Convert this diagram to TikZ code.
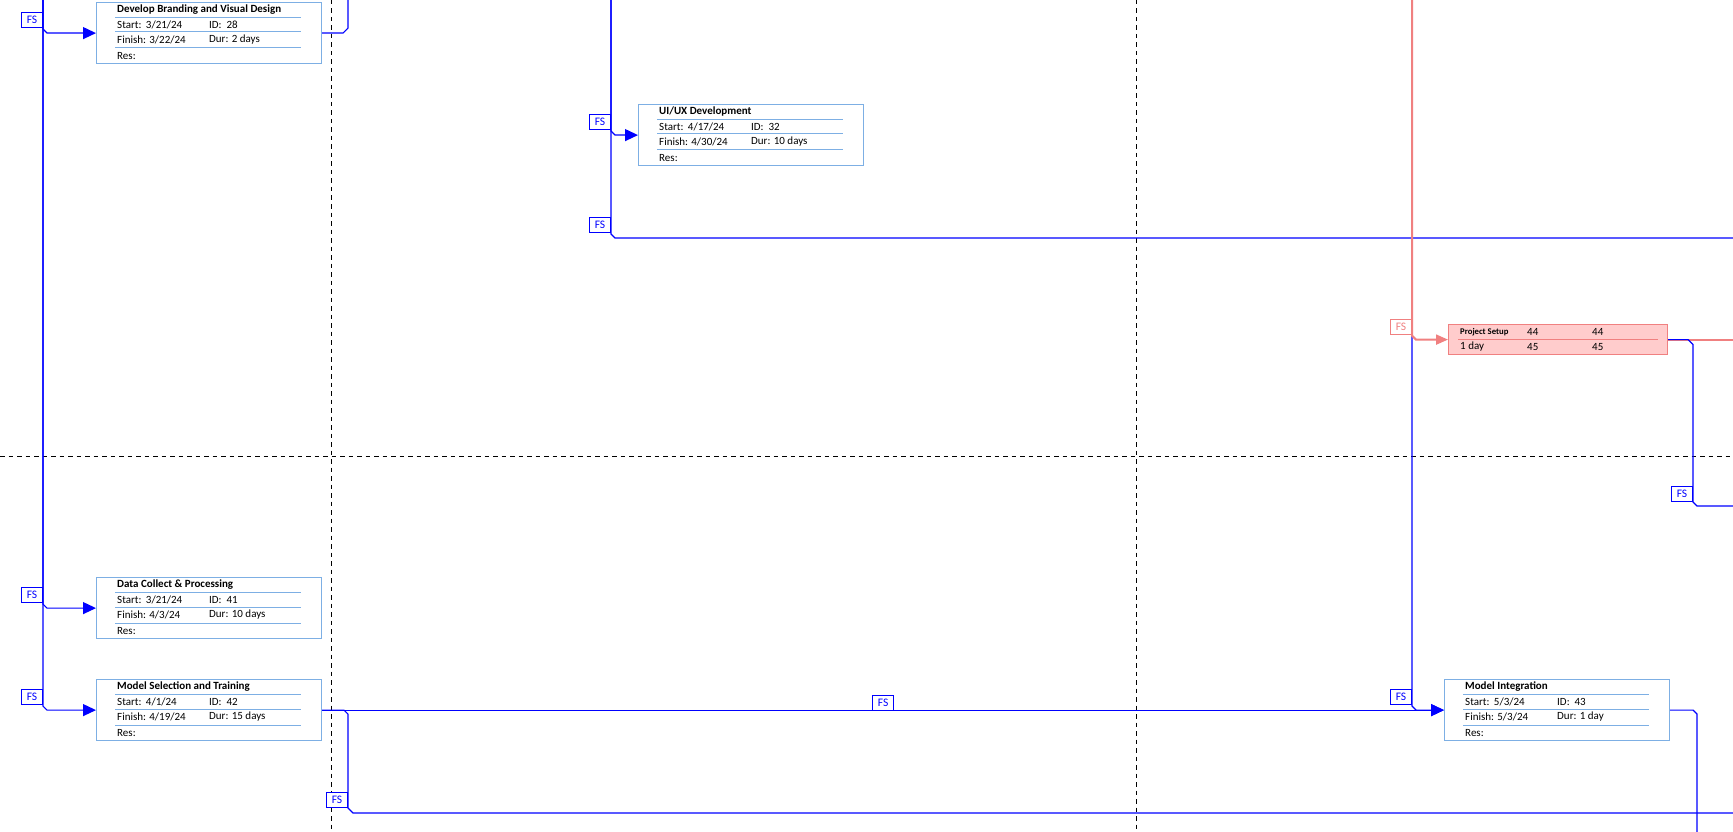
\documentclass[tikz,border=0pt]{standalone}
\usepackage{fontspec}
\setmainfont{Carlito}
\usetikzlibrary{arrows.meta,calc}
\definecolor{lnk}{RGB}{0,0,255}
\definecolor{bxb}{RGB}{125,175,228}
\definecolor{crit}{RGB}{240,128,128}
\definecolor{critfill}{RGB}{255,204,204}
\tikzset{
 tbox/.style={draw=bxb, line width=1.2pt, fill=white, minimum width=225pt, minimum height=61pt, inner sep=0pt, anchor=north west},
 tline/.style={draw=bxb, line width=1pt},
 ttl/.style={anchor=west, inner sep=0pt, font=\fontsize{11}{13}\selectfont\bfseries},
 ttx/.style={anchor=west, inner sep=0pt, font=\fontsize{11}{13}\selectfont},
 ctl/.style={anchor=west, inner sep=0pt, font=\fontsize{8.7}{10}\selectfont\bfseries},
 fs/.style={draw=lnk, fill=white, text=lnk, line width=1pt, minimum width=21pt, minimum height=15pt, inner sep=0pt, anchor=south east, font=\fontsize{11.5}{13}\selectfont},
 fsc/.style={fs, draw=crit, text=crit},
 link/.style={draw=lnk, line width=1.2pt},
 linkarr/.style={link, -{Triangle[length=13pt,width=12pt]}},
 critlink/.style={draw=crit, line width=2pt},
 gridline/.style={draw=black, line width=1pt, dash pattern=on 4.5pt off 4pt},
 cbox/.style={draw=crit, fill=critfill, line width=1.2pt, minimum width=219pt, minimum height=30pt, anchor=north west, inner sep=0pt},
}
\newcommand\taskbox[8]{%
 \node[tbox] (#1) at (#2,#3) {};
 \draw[tline] ($(#1.north west)+(19,15.5)$) -- ++(186,0);
 \draw[tline] ($(#1.north west)+(19,30)$) -- ++(186,0);
 \draw[tline] ($(#1.north west)+(19,46)$) -- ++(186,0);
 \node[ttl] (#1-t) at ($(#1.north west)+(21,7.5)$) {#4};
 \node[ttx] (#1-s) at ($(#1.north west)+(21,22.5)$) {Start:\hspace{0.4em}#5};
 \node[ttx] (#1-i) at ($(#1.north west)+(113,22.5)$) {ID:\hspace{0.45em}#6};
 \node[ttx] (#1-f) at ($(#1.north west)+(21,38)$) {Finish: #7};
 \node[ttx] (#1-d) at ($(#1.north west)+(113,38)$) {Dur: #8};
 \node[ttx] (#1-r) at ($(#1.north west)+(21,54)$) {Res:};
}
\begin{document}
\begin{tikzpicture}[x=1pt,y=-1pt]
\useasboundingbox[fill=white] (0,0) rectangle (1733,832);
% page grid
\draw[gridline] (331,0) -- (331,832);
\draw[gridline] (1136,0) -- (1136,832);
\draw[gridline] (0,456) -- (1733,456);
% box outlines first, so that anchors exist
\node[tbox] (b28) at (96,2) {};
\node[tbox] (b32) at (638,104) {};
\node[tbox] (b41) at (96,577) {};
\node[tbox] (b42) at (96,679) {};
\node[tbox] (b43) at (1444,679) {};
\node[cbox] (ps) at (1448,324) {};
% coordinates
\coordinate (t43) at (43,0);
\coordinate (t348) at (348,0);
\coordinate (t611) at (611,0);
\coordinate (t1412) at (1412,0);
\coordinate (r238) at (1733,238);
\coordinate (r339) at (1733,339);
\coordinate (k1) at (1693,506);
\coordinate (r506) at (1733,506);
\coordinate (k2) at (348,813);
\coordinate (r813) at (1733,813);
\coordinate (b1697) at (1697,832);
% links
\draw[linkarr] (t43) -- ($(t43|-b28.west)+(0,-4)$) -- ($(t43|-b28.west)+(4,0)$) -- (b28.west);
\draw[linkarr] (t43) -- ($(t43|-b41.west)+(0,-4)$) -- ($(t43|-b41.west)+(4,0)$) -- (b41.west);
\draw[linkarr] (t43) -- ($(t43|-b42.west)+(0,-4)$) -- ($(t43|-b42.west)+(4,0)$) -- (b42.west);
\draw[link] (b28.east) -- ($(t348|-b28.east)+(-5,0)$) -- ($(t348|-b28.east)+(0,-5)$) -- (t348);
\draw[linkarr] (t611) -- ($(t611|-b32.west)+(0,-4)$) -- ($(t611|-b32.west)+(4,0)$) -- (b32.west);
\draw[link] (t611) -- ($(t611|-r238)+(0,-4)$) -- ($(t611|-r238)+(4,0)$) -- (r238);
\draw[linkarr] (t1412) -- ($(t1412|-b43.west)+(0,-4)$) -- ($(t1412|-b43.west)+(4,0)$) -- (b43.west);
\draw[critlink, -{Triangle[length=12pt,width=10pt]}] (t1412) -- ($(t1412|-ps.west)+(0,-4)$) -- ($(t1412|-ps.west)+(4,0)$) -- (ps.west);
\draw[critlink] (ps.east) -- (ps.east -| r339);
\draw[link] (ps.east) -- ($(k1|-ps.east)+(-5,0)$) -- ($(k1|-ps.east)+(0,5)$) -- ($(k1)+(0,-4)$) -- ($(k1)+(4,0)$) -- (r506);
\draw[linkarr] (b42.east) -- (b43.west);
\draw[link] (b42.east) -- ($(k2|-b42.east)+(-4,0)$) -- ($(k2|-b42.east)+(0,4)$) -- ($(k2)+(0,-5)$) -- ($(k2)+(5,0)$) -- (r813);
\draw[link] (b43.east) -- ($(b1697|-b43.east)+(-4,0)$) -- ($(b1697|-b43.east)+(0,4)$) -- (b1697);
% boxes with contents, over the links
\taskbox{b28}{96}{2}{Develop Branding and Visual Design}{3/21/24}{28}{3/22/24}{2 days}
\taskbox{b32}{638}{104}{UI/UX Development}{4/17/24}{32}{4/30/24}{10 days}
\taskbox{b41}{96}{577}{Data Collect \& Processing}{3/21/24}{41}{4/3/24}{10 days}
\taskbox{b42}{96}{679}{Model Selection and Training}{4/1/24}{42}{4/19/24}{15 days}
\taskbox{b43}{1444}{679}{Model Integration}{5/3/24}{43}{5/3/24}{1 day}
\node[cbox] (ps) at (1448,324) {};
\draw[crit, line width=1pt] ($(ps.north west)+(10,15)$) -- ($(ps.north east)+(-10,15)$);
\node[ctl] (ps-t) at ($(ps.north west)+(12,8)$) {Project Setup};
\node[ttx] (ps-a) at ($(ps.north west)+(79,8)$) {44};
\node[ttx] (ps-b) at ($(ps.north west)+(144,8)$) {44};
\node[ttx] (ps-c) at ($(ps.north west)+(12,23)$) {1 day};
\node[ttx] (ps-d) at ($(ps.north west)+(79,23)$) {45};
\node[ttx] (ps-e) at ($(ps.north west)+(144,23)$) {45};
% FS labels
\node[fs] (fs28) at ($(t43|-b28.west)+(0,-5)$) {FS};
\node[fs] (fs41) at ($(t43|-b41.west)+(0,-5)$) {FS};
\node[fs] (fs42) at ($(t43|-b42.west)+(0,-5)$) {FS};
\node[fs] (fs32) at ($(t611|-b32.west)+(0,-5)$) {FS};
\node[fs] (fs238) at ($(t611|-r238)+(0,-5)$) {FS};
\node[fsc] (fsps) at ($(t1412|-ps.west)+(0,-4.5)$) {FS};
\node[fs] (fs43) at ($(t1412|-b43.west)+(0,-5)$) {FS};
\node[fs] (fs506) at ($(k1)+(0,-4)$) {FS};
\node[fs] (fs813) at ($(k2)+(0,-5)$) {FS};
\node[fs, anchor=south] (fsmid) at ($(b42.east)!0.5!(b43.west)+(0,0.5)$) {FS};
\end{tikzpicture}
\end{document}
